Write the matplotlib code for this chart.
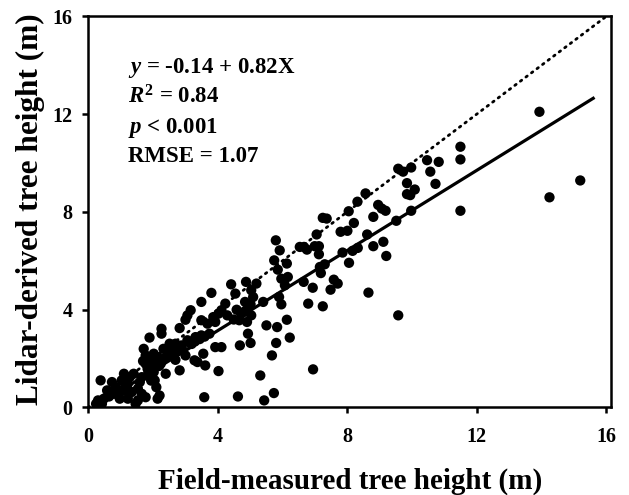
import matplotlib
matplotlib.use("Agg")
import matplotlib.pyplot as plt
import numpy as np

plt.rcParams['font.family'] = ['Liberation Serif', 'DejaVu Serif']
plt.rcParams['font.weight'] = 'bold'
plt.rcParams['mathtext.fontset'] = 'custom'
plt.rcParams['mathtext.rm'] = 'Liberation Serif:bold'
plt.rcParams['mathtext.it'] = 'Liberation Serif:italic:bold'
plt.rcParams['mathtext.bf'] = 'Liberation Serif:bold'

field_height = [
    13.94, 15.2, 14.25, 11.5, 11.5, 11.5, 10.83, 10.47, 10.57, 10.73,
    9.58, 9.73, 9.98, 9.85, 10.09, 9.85, 9.95, 9.98, 9.52, 9.58,
    8.57, 8.32, 8.96, 9.07, 8.81, 9.19, 8.05, 7.8, 8.01, 8.21,
    8.62, 8.81, 9.12, 9.21, 8.33, 8.17, 7.86, 8.06, 8.66, 7.25,
    7.37, 7.06, 7.13, 7.0, 7.13, 6.67, 6.76, 6.54, 7.31, 7.16,
    7.19, 7.59, 7.71, 7.49, 6.94, 6.66, 6.8, 7.25, 6.95, 5.8,
    5.92, 5.75, 5.86, 6.14, 6.17, 5.97, 6.08, 5.9, 5.97, 6.14,
    5.84, 6.23, 5.81, 5.68, 5.74, 5.41, 5.51, 5.32, 5.44, 4.88,
    5.2, 5.04, 5.1, 4.85, 5.02, 4.89, 4.73, 5.04, 4.91, 4.67,
    4.55, 4.42, 4.59, 4.94, 5.02, 4.69, 4.63, 4.24, 4.3, 4.12,
    4.03, 3.87, 3.93, 3.81, 4.12, 3.93, 4.03, 3.56, 3.62, 3.59,
    3.5, 3.5, 3.69, 3.75, 3.5, 3.32, 3.38, 3.29, 3.17, 3.07,
    3.01, 3.07, 3.17, 2.89, 2.83, 2.7, 2.64, 2.83, 3.01, 2.7,
    2.52, 2.33, 2.27, 2.27, 2.4, 2.21, 2.15, 2.15, 2.03, 1.94,
    1.9, 1.72, 1.78, 1.84, 1.78, 1.84, 2.03, 2.06, 2.11, 1.97,
    1.78, 1.66, 1.6, 1.54, 1.54, 1.47, 1.41, 1.29, 1.23, 1.11,
    1.04, 1.11, 0.98, 0.86, 0.8, 0.74, 0.59, 0.49, 0.39, 0.31,
    0.25, 0.43, 1.23, 1.35, 1.66, 2.0, 2.1, 1.9, 2.2, 2.45,
    2.6, 2.9, 3.3, 3.6, 4.5, 4.8, 1.95, 2.25, 2.5, 1.7,
    1.85, 2.35, 2.75, 3.2, 3.45, 0.95, 1.15, 0.65,
]
lidar_height = [
    12.10, 9.29, 8.6, 10.67, 10.15, 8.05, 10.05, 10.12, 9.65, 9.15,
    9.77, 9.65, 9.82, 9.18, 8.92, 8.73, 8.69, 8.05, 7.64, 3.77,
    8.76, 8.42, 8.29, 8.14, 7.8, 8.05, 8.03, 7.19, 7.23, 7.55,
    7.08, 6.6, 6.78, 6.2, 6.53, 6.41, 6.34, 5.92, 4.7, 7.76,
    7.73, 7.08, 6.6, 6.6, 6.27, 6.57, 6.46, 6.57, 5.86, 5.75,
    5.5, 5.23, 5.07, 4.82, 4.9, 5.14, 4.25, 4.14, 1.56, 6.84,
    6.43, 6.02, 5.64, 5.89, 5.34, 5.27, 5.0, 4.52, 4.22, 3.59,
    3.29, 2.86, 2.64, 2.13, 0.59, 4.32, 3.36, 1.31, 0.29, 5.14,
    5.07, 4.8, 4.52, 4.32, 4.22, 3.98, 3.84, 3.77, 3.5, 3.57,
    4.66, 5.04, 4.0, 3.02, 2.64, 2.54, 0.45, 4.25, 3.77, 3.98,
    3.84, 3.7, 3.5, 4.69, 2.47, 2.47, 1.49, 2.2, 1.72, 0.42,
    4.32, 3.57, 3.43, 3.02, 2.95, 2.88, 1.86, 1.93, 3.98, 3.77,
    3.59, 2.75, 2.61, 2.54, 3.25, 2.61, 2.47, 1.52, 2.13, 1.95,
    2.61, 2.4, 3.22, 3.02, 1.38, 0.49, 0.36, 2.06, 2.2, 1.79,
    2.86, 2.4, 2.13, 1.93, 1.79, 1.58, 1.45, 1.11, 0.83, 1.24,
    0.42, 1.24, 1.04, 0.77, 0.29, 0.15, 1.38, 1.24, 0.97, 1.38,
    1.11, 0.7, 0.36, 0.83, 0.56, 1.04, 0.7, 0.36, 1.11, 0.29,
    0.15, 0.15, 0.36, 0.63, 0.56, 1.6, 1.9, 1.3, 1.7, 2.1,
    2.3, 2.4, 2.7, 2.9, 3.6, 3.9, 1.1, 1.8, 2.2, 1.9,
    1.35, 2.0, 2.3, 2.6, 2.8, 0.55, 0.85, 0.45,
]

intercept = -0.14
slope = 0.82
stats_lines = ["$y$ = -0.14 + 0.82X", "$R^2$ = 0.84", "$p$ < 0.001", "RMSE = 1.07"]
x_ticks = [0, 4, 8, 12, 16]
y_ticks = [0, 4, 8, 12, 16]

fig = plt.figure(figsize=(6.29, 4.95), dpi=100)
ax = fig.add_axes([0.1399, 0.1768, 0.9714 - 0.1399, 0.9667 - 0.1768])

ax.scatter(field_height, lidar_height, s=55, color='black', edgecolors='none', zorder=3)

ax.plot([0, 16], [0, 16], color='black', linewidth=2.0, linestyle=(0, (0.6, 1.9)),
        dash_capstyle='round', zorder=2)
xr = np.array([min(field_height), 15.6])
ax.plot(xr, intercept + slope * xr, color='black', linewidth=2.3, zorder=4)

ax.set_xlim(0, 16.15)
ax.set_ylim(0, 16)
ax.set_xticks(x_ticks)
ax.set_yticks(y_ticks)
ax.tick_params(direction='out', length=4, width=1.8, labelsize=14.5)
ax.tick_params(axis='x', pad=10)
ax.tick_params(axis='y', pad=7)
for lab in ax.get_xticklabels() + ax.get_yticklabels():
    lab.set_fontweight('bold')
for sp in ax.spines.values():
    sp.set_linewidth(1.8)

fig.text(350.5 / 629, 1 - 488.5 / 495, "Field-measured tree height (m)", fontsize=21,
         fontweight='bold', ha='center', va='baseline')
fig.text(38 / 629, 1 - 209.5 / 495, "Lidar-derived tree height (m)", fontsize=22.5,
         fontweight='bold', ha='center', va='baseline', rotation=90, rotation_mode='anchor')

ys = [13.88, 12.72, 11.42, 10.26]
for t, yy in zip(stats_lines, ys):
    ax.text(1.23, yy, t, fontsize=16.5, fontweight='bold', va='center', ha='left')

fig.savefig("out.png", dpi=100)
